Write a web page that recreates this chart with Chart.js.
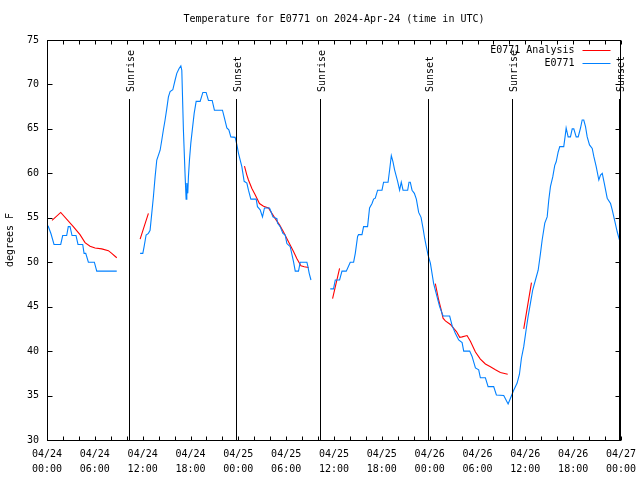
<!DOCTYPE html>
<html>
<head>
<meta charset="utf-8">
<script src="https://cdn.jsdelivr.net/npm/chart.js@4/dist/chart.umd.min.js"></script>
<style>
  html, body { margin: 0; padding: 0; background: #ffffff; }
  #wrap { width: 640px; height: 480px; }
</style>
</head>
<body>
<div id="wrap"><canvas id="c" width="640" height="480"></canvas></div>
<script>
// ---- Data (hours since 04/24 00:00 UTC, degrees F); null = gap ----
const titleText = 'Temperature for E0771 on 2024-Apr-24 (time in UTC)';
const yAxisTitle = 'degrees F';
const analysisLabel = 'E0771 Analysis';
const obsLabel = 'E0771';

const tickDates = ['04/24','04/24','04/24','04/24','04/25','04/25','04/25','04/25','04/26','04/26','04/26','04/26','04/27'];
const tickTimes = ['00:00','06:00','12:00','18:00','00:00','06:00','12:00','18:00','00:00','06:00','12:00','18:00','00:00'];

const sunriseHours = [10.25, 34.3, 58.3];
const sunsetHours = [23.75, 47.75, 71.7];

const obsHours = [
  0.13,0.50,0.88,1.72,1.97,2.47,2.67,2.89,3.14,3.64,3.89,4.48,4.65,4.86,5.19,5.94,6.24,8.75,
  10.0,
  11.68,12.02,12.18,12.43,12.72,12.93,13.14,13.35,13.56,13.77,14.19,14.40,14.60,14.81,15.03,15.23,15.44,15.78,16.07,16.28,16.57,16.79,16.91,
  17.11,17.33,17.45,17.54,17.66,17.74,17.87,18.04,18.24,18.46,18.71,19.21,19.55,19.96,20.25,20.72,21.00,22.01,22.26,22.56,22.81,23.06,23.60,
  23.82,24.02,24.44,24.73,25.07,25.27,25.57,26.24,26.40,26.74,27.03,27.28,27.91,28.09,28.34,28.84,28.91,29.25,29.59,29.88,30.09,30.51,30.92,
  31.14,31.55,31.76,32.60,32.73,32.89,33.11,
  34.0,
  35.53,35.94,36.16,36.70,37.00,37.54,38.04,38.46,38.67,38.96,39.08,39.51,39.71,40.21,40.46,40.77,40.97,41.18,41.47,42.02,42.22,42.78,42.98,
  43.19,43.40,43.60,43.98,44.23,44.44,44.66,45.24,45.41,45.57,45.79,46.08,46.33,46.62,46.92,47.17,47.37,47.58,47.80,48.09,48.50,48.93,49.25,
  49.68,50.51,50.81,51.22,51.64,52.07,52.27,53.02,53.32,53.74,54.15,54.36,54.99,55.33,56.03,56.37,57.29,57.84,58.22,58.54,58.97,59.26,59.51,
  59.80,60.10,60.35,60.64,60.93,61.27,61.61,61.90,62.11,62.44,62.74,62.94,63.15,63.44,63.69,63.87,64.12,64.32,64.82,65.04,65.12,65.37,65.66,
  65.88,66.08,66.38,66.63,66.92,67.13,67.33,67.55,67.76,68.05,68.39,68.59,68.89,69.22,69.43,69.65,69.90,70.27,70.69,70.90,71.23,71.53,71.81,71.94
];
const obsTemps = [
  54.1,53.2,52,52,53,53,54,54,53,53,52,52,51,51,50,50,49,49,
  null,
  51,51,51.75,53.06,53.25,53.6,55.5,57.4,59.6,61.5,62.6,63.75,64.9,66,67.3,68.6,69.2,69.4,70.5,71.25,71.8,72.1,71.6,
  64.9,59.6,57.1,58.9,57.75,59.6,61.5,63.4,65,66.75,68.1,68.1,69.1,69.1,68.2,68.2,67.1,67.1,66.2,65.1,64.9,64.1,64.05,
  63.2,62.25,60.75,59.1,58.9,58.1,57.1,57.1,56.25,55.9,55.1,56.1,56.1,55.7,55.1,54.9,54.4,54.0,53.25,53.06,52.1,51.75,50.06,
  49,49,50,50,49.5,48.75,48,
  null,
  47,47,48,48,49,49,50,50,51,52.9,53.1,53.1,54,54,56.1,56.6,57.1,57.2,58.1,58.1,59,59,60.4,
  62,61.3,60.4,59.1,58.1,59,58.1,58.1,59,59,58.1,57.75,57.1,55.6,55.05,53.8,52.7,51.75,50.8,49.9,47.6,46.1,45,
  43.95,43.95,42.9,42,41.25,40.95,40,40,39.4,38.1,37.9,37,37,36,36,35.06,35,34.05,34.9,35.6,36.4,37.4,39.2,
  40.5,42.4,43.9,45.4,46.9,48,49.1,51,52.5,54.4,55.1,57,58.5,59.6,60.9,61.3,62.4,63,63,64.5,65.1,64.1,64.1,
  65,65,64.1,64.1,65.1,66,66,65.25,64.1,63.2,62.8,61.9,60.75,59.25,59.8,60,58.9,57.2,56.6,55.9,54.6,53.4,52.5,52.1
];

const analysisHours = [
  0.63,1.72,3.30,4.14,4.77,5.40,6.03,6.87,7.70,8.12,8.75,
  10.0,
  11.68,12.72,
  18.0,
  24.77,25.07,25.27,25.70,26.11,26.65,27.16,27.78,28.21,28.63,29.17,29.67,30.29,30.92,31.35,31.85,32.27,32.81,
  34.0,
  35.82,36.70,
  42.0,
  48.71,49.13,49.43,49.68,49.97,50.60,51.36,51.77,52.07,52.69,53.11,53.74,54.36,54.99,55.62,56.25,56.87,57.79,
  58.5,
  59.80,60.77
];
const analysisTemps = [
  54.7,55.6,54.0,53.1,52.2,51.8,51.6,51.5,51.3,51.0,50.5,
  null,
  52.6,55.5,
  null,
  60.8,59.8,59.25,58.3,57.6,56.6,56.3,56.1,55.5,54.9,54.2,53.4,52.3,51.2,50.4,49.6,49.5,49.4,
  null,
  45.9,49.3,
  null,
  47.6,45.75,44.7,43.7,43.4,43.0,42.2,41.55,41.6,41.75,41.1,39.9,39.1,38.55,38.25,37.9,37.6,37.4,
  null,
  42.5,47.7
];

// ---- Build chart ----
const FONT = '"DejaVu Sans Mono", "Liberation Mono", monospace';
const toPoints = (xs, ys) => xs.map((x, i) => ({ x: x, y: ys[i] }));

const framePlugin = {
  id: 'frame',
  afterDatasetsDraw(chart) {
    const ctx = chart.ctx;
    const a = chart.chartArea;
    const xs = chart.scales.x, ys = chart.scales.y;
    ctx.save();

    // Title centred over the plot area
    ctx.fillStyle = '#000';
    ctx.font = '10px ' + FONT;
    ctx.textAlign = 'center';
    ctx.textBaseline = 'middle';
    ctx.fillText(titleText, (a.left + a.right) / 2, 19.5);

    ctx.strokeStyle = '#000';
    ctx.lineWidth = 1;
    const L = Math.round(a.left) + 0.5, R = Math.round(a.right) - 0.5;
    const T = Math.round(a.top) + 0.5, B = Math.round(a.bottom) + 0.5;
    ctx.strokeRect(L, T, R - L, B - T);
    // x ticks every 2h, inward at bottom and top
    ctx.beginPath();
    for (let h = 0; h <= 72; h += 2) {
      const px = Math.round(xs.getPixelForValue(h)) + 0.5;
      ctx.moveTo(px, B); ctx.lineTo(px, B - 4);
      ctx.moveTo(px, T); ctx.lineTo(px, T + 4);
    }
    // y ticks every 5 deg, inward on left and right
    for (let v = 30; v <= 75; v += 5) {
      const py = Math.round(ys.getPixelForValue(v)) + 0.5;
      ctx.moveTo(L, py); ctx.lineTo(L + 5, py);
      ctx.moveTo(R, py); ctx.lineTo(R - 5, py);
    }
    ctx.stroke();

    // Sunrise / sunset lines with rotated labels
    const drawSun = (h, label) => {
      const px = Math.round(xs.getPixelForValue(h)) + 0.5;
      ctx.beginPath();
      ctx.moveTo(px, a.top + 59);
      ctx.lineTo(px, B);
      ctx.stroke();
      ctx.save();
      ctx.translate(px + 1.5, a.top + 52);
      ctx.rotate(-Math.PI / 2);
      ctx.fillStyle = '#000';
      ctx.font = '10px ' + FONT;
      ctx.textAlign = 'left';
      ctx.textBaseline = 'middle';
      ctx.fillText(label, 0, 0);
      ctx.restore();
    };
    sunriseHours.forEach(h => drawSun(h, 'Sunrise'));
    sunsetHours.forEach(h => drawSun(h, 'Sunset'));

    // Legend (inside, top right)
    const ds = chart.data.datasets;
    const legendOrder = [1, 0];
    ctx.font = '10px ' + FONT;
    ctx.textAlign = 'right';
    ctx.textBaseline = 'middle';
    legendOrder.forEach((di, row) => {
      const y = Math.round(a.top + 10 + row * 12.5);
      ctx.fillStyle = '#000';
      ctx.fillText(ds[di].label, R - 46, y);
      ctx.strokeStyle = ds[di].borderColor;
      ctx.lineWidth = 1;
      ctx.beginPath();
      ctx.moveTo(R - 38, y + 0.5);
      ctx.lineTo(R - 10, y + 0.5);
      ctx.stroke();
    });
    ctx.restore();
  }
};

new Chart(document.getElementById('c'), {
  type: 'line',
  data: {
    datasets: [
      {
        label: obsLabel,
        data: toPoints(obsHours, obsTemps),
        borderColor: '#0080ff',
        borderWidth: 1.1,
        pointRadius: 0,
        tension: 0,
        spanGaps: false,
        order: 0
      },
      {
        label: analysisLabel,
        data: toPoints(analysisHours, analysisTemps),
        borderColor: '#ff0000',
        borderWidth: 1.1,
        pointRadius: 0,
        tension: 0,
        spanGaps: false,
        order: 1
      }
    ]
  },
  options: {
    responsive: false,
    animation: false,
    devicePixelRatio: 1,
    layout: { padding: { left: 0, right: 19, top: 40, bottom: 0 } },
    plugins: {
      legend: { display: false },
      tooltip: { enabled: false },
      title: { display: false }
    },
    scales: {
      x: {
        type: 'linear',
        min: 0, max: 72,
        grid: { display: false, drawTicks: false },
        border: { display: false },
        afterFit(scale) { scale.height = 40; scale.paddingLeft = 0; scale.paddingRight = 0; },
        ticks: {
          stepSize: 6,
          autoSkip: false,
          maxRotation: 0,
          padding: 7,
          color: '#000',
          font: { family: FONT, size: 10, lineHeight: 1.5 },
          callback(value) {
            const i = Math.round(value / 6);
            return [tickDates[i], tickTimes[i]];
          }
        }
      },
      y: {
        min: 30, max: 75,
        grid: { display: false, drawTicks: false },
        border: { display: false },
        afterFit(scale) { scale.width = 47; scale.paddingTop = 0; scale.paddingBottom = 0; },
        title: {
          display: true,
          text: yAxisTitle,
          color: '#000',
          font: { family: FONT, size: 10, lineHeight: 1.2 },
          padding: { top: 4, bottom: 0 }
        },
        ticks: {
          stepSize: 5,
          padding: 8,
          color: '#000',
          font: { family: FONT, size: 10 }
        }
      }
    }
  },
  plugins: [framePlugin]
});
</script>
</body>
</html>
